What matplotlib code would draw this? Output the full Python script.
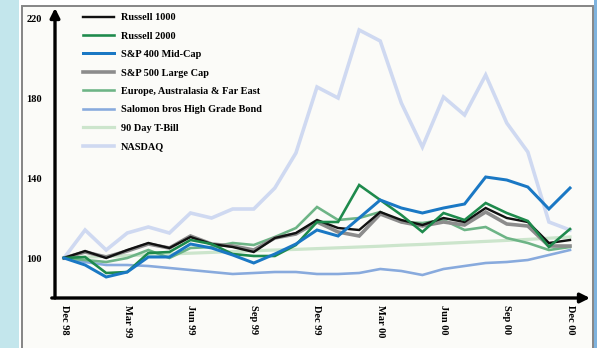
import matplotlib
matplotlib.use("Agg")
import matplotlib.pyplot as plt
from matplotlib.patches import Rectangle

months = ["Dec 98", "Jan 99", "Feb 99", "Mar 99", "Apr 99", "May 99", "Jun 99", "Jul 99",
          "Aug 99", "Sep 99", "Oct 99", "Nov 99", "Dec 99", "Jan 00", "Feb 00", "Mar 00",
          "Apr 00", "May 00", "Jun 00", "Jul 00", "Aug 00", "Sep 00", "Oct 00", "Nov 00", "Dec 00"]
tick_labels = ["Dec 98", "Mar 99", "Jun 99", "Sep 99", "Dec 99", "Mar 00", "Jun 00", "Sep 00", "Dec 00"]
y_ticks = [100, 140, 180, 220]

russell1000 = [100, 103.5, 100, 104, 107.5, 105, 110.5, 107, 105.5, 103, 110, 112.5, 119, 115,
               114, 123, 119, 116.5, 120, 118, 125, 120, 118, 107.5, 109]
russell2000 = [100, 100.5, 92.5, 93, 102.5, 103, 109, 107, 102, 101, 101, 106.5, 118, 118,
               136.5, 129, 121.5, 113, 122.5, 119, 127.5, 122.5, 118.5, 105.5, 114.5]
sp400 = [100, 96.5, 90.5, 93, 100.5, 100.5, 107, 105, 101.5, 97.5, 102, 107, 114, 111,
         120, 129, 125, 122.5, 125, 127, 140.5, 139, 135.5, 124.5, 135]
sp500 = [100, 103, 100.5, 103.5, 107, 105, 111, 107, 106, 104, 110, 112, 118, 113,
         111, 122, 118, 116, 118, 116.5, 123, 117, 116, 106, 106]
eafe = [100, 99, 98, 100, 104, 100, 105, 105.5, 107.5, 106.5, 110.5, 115, 125.5, 119,
        120, 123, 118, 117.5, 119, 114, 115.5, 110, 107.5, 104, 105.5]
bond = [100, 98, 96.5, 96.5, 96, 95, 94, 93, 92, 92.5, 93, 93, 92, 92,
        92.5, 94.5, 93.5, 91.5, 94.5, 96, 97.5, 98, 99, 101.5, 104]
tbill = [100, 100.4, 100.8, 101.2, 101.6, 102.0, 102.4, 102.8, 103.2, 103.6, 104.0, 104.3, 104.7, 105.1,
         105.5, 105.9, 106.4, 106.8, 107.3, 107.8, 108.3, 108.8, 109.3, 109.9, 110.5]
nasdaq = [100, 114, 104, 112.5, 115.5, 112.5, 122.5, 120, 124.5, 124.5, 135, 152.5, 185.5, 180,
          214, 208.5, 177.5, 155.5, 180.5, 171.5, 191.5, 167.5, 153, 118, 114]

series = [
    ("NASDAQ", nasdaq, "#cfd9f1", 3.6),
    ("90 Day T-Bill", tbill, "#cce5cc", 3.2),
    ("Salomon bros High Grade Bond", bond, "#88aadd", 2.6),
    ("Europe, Australasia & Far East", eafe, "#6db486", 2.6),
    ("S&P 500 Large Cap", sp500, "#8c8c8c", 3.6),
    ("Russell 1000", russell1000, "#111111", 2.4),
    ("Russell 2000", russell2000, "#1e8a4c", 2.6),
    ("S&P 400 Mid-Cap", sp400, "#1a78c4", 3.0),
]
legend_order = ["Russell 1000", "Russell 2000", "S&P 400 Mid-Cap", "S&P 500 Large Cap",
                "Europe, Australasia & Far East", "Salomon bros High Grade Bond",
                "90 Day T-Bill", "NASDAQ"]

W, H = 597, 348
fig = plt.figure(figsize=(W / 100, H / 100), dpi=100)
fig.patch.set_facecolor("white")

def fr(x0, y0, x1, y1):
    return (x0 / W, 1 - y1 / H, (x1 - x0) / W, (y1 - y0) / H)

# decorations of the page
l, b, w, h = fr(0, 0, 19, H)
fig.add_artist(Rectangle((l, b), w, h, transform=fig.transFigure, facecolor="#c3e6ec",
                         edgecolor="none", zorder=-5))
l, b, w, h = fr(594, 0, W, H)
fig.add_artist(Rectangle((l, b), w, h, transform=fig.transFigure, facecolor="#7fb3de",
                         edgecolor="none", zorder=-5))
l, b, w, h = fr(22, 6, 593, H + 5)
fig.add_artist(Rectangle((l, b), w, h, transform=fig.transFigure, facecolor="#fbfbf8",
                         edgecolor="#858585", linewidth=1.4, zorder=-4))

x0px, x1px = 55, 590
y0px, y1px = 298, 8
ax = fig.add_axes(fr(x0px, y1px, x1px, y0px))
ax.set_zorder(2)
ax.set_facecolor("none")
step = (570 - 64) / 24.0
ax.set_xlim(-(64 - x0px) / step, (x1px - 64) / step)
ax.set_ylim(100 - (y0px - 258) / 2.0, 100 + (258 - y1px) / 2.0)

x = list(range(len(months)))
handles = {}
for name, vals, col, lwpx in series:
    (ln,) = ax.plot(x, vals, color=col, lw=lwpx * 0.72, label=name, solid_joinstyle="miter")
    handles[name] = ln

for s in ax.spines.values():
    s.set_visible(False)

font = dict(family="Liberation Serif", weight="bold", size=7.5)
ax.set_yticks(y_ticks)
ax.set_yticklabels([str(v) for v in y_ticks], fontdict=font)
ax.tick_params(axis="y", length=0, pad=9.5)
for t in ax.get_yticklabels():
    t.set_horizontalalignment("right")

ax.set_xticks([months.index(m) for m in tick_labels])
ax.set_xticklabels(tick_labels, fontdict=font, rotation=-90, va="top", ha="center")
ax.tick_params(axis="x", length=0, pad=5)

# arrow axes
ax.annotate("", xy=(0, 1.0), xytext=(0, 0), xycoords="axes fraction",
            arrowprops=dict(arrowstyle="-|>", lw=2.4, color="black", mutation_scale=14,
                            shrinkA=0, shrinkB=0))
ax.annotate("", xy=(1.0, 0), xytext=(-0.006, 0), xycoords="axes fraction",
            arrowprops=dict(arrowstyle="-|>", lw=2.4, color="black", mutation_scale=14,
                            shrinkA=0, shrinkB=0))

leg = ax.legend([handles[n] for n in legend_order], legend_order, loc="upper left",
                bbox_to_anchor=((83 - x0px) / (x1px - x0px), 1 - (13 - y1px) / (y0px - y1px)),
                frameon=False, prop=dict(family="Liberation Serif", weight="bold", size=7.4),
                handlelength=3.0, handletextpad=0.7, labelspacing=0.9, borderpad=0,
                borderaxespad=0)

fig.savefig("out.png", dpi=100)
